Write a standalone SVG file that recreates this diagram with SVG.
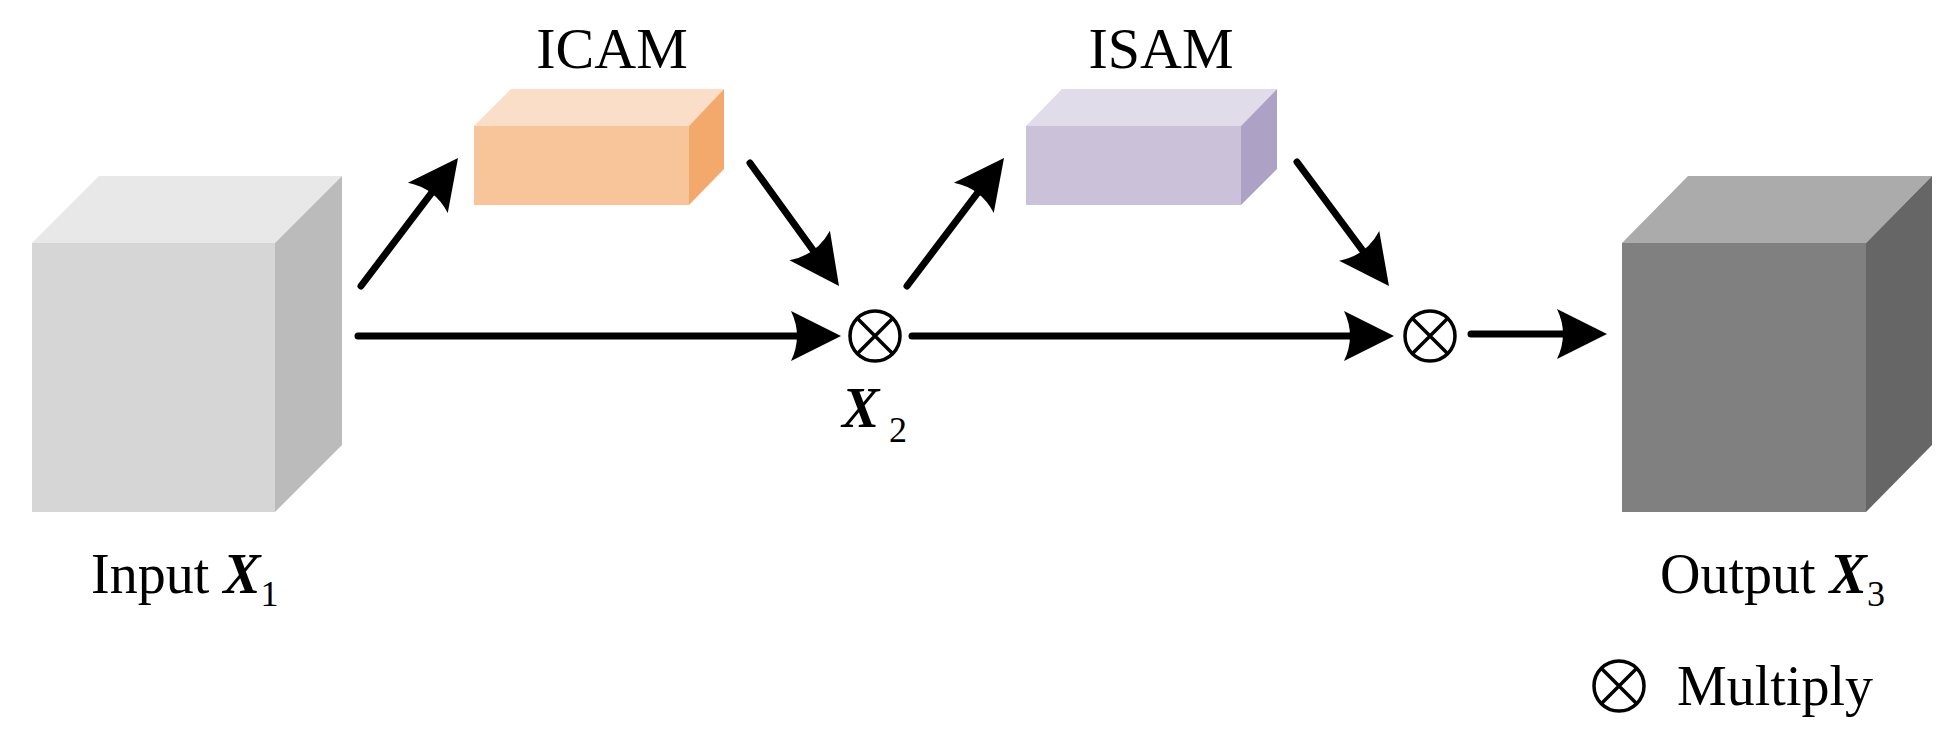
<svg xmlns="http://www.w3.org/2000/svg" width="1953" height="742" viewBox="0 0 1953 742">
<style>
text{font-family:"Liberation Serif","Times New Roman",serif;font-size:56px;fill:#000}
.v{font-weight:bold;font-style:italic}
.s{font-size:36px}
.c{stroke:#000;stroke-width:7;stroke-linecap:round;fill:none}
.m{fill:#fff;stroke:#000;stroke-width:3.5}
</style>
<defs>
<marker id="ah" markerUnits="userSpaceOnUse" markerWidth="100" markerHeight="100" viewBox="-50 -50 100 100" refX="0" refY="0" orient="auto" overflow="visible">
<path d="M30,0 L-20,-25 Q-8,0 -20,25 Z" fill="#000"/>
</marker>
</defs>
<rect width="1953" height="742" fill="#fff"/>
<g id="input">
<polygon points="32,243 99,176 342,176 275,243" fill="#e8e8e8"/>
<polygon points="275,243 342,176 342,445 275,512" fill="#bbbbbb"/>
<rect x="32" y="243" width="243" height="269" fill="#d6d6d6"/>
<text x="91" y="593">Input <tspan class="v">X</tspan><tspan class="s" dy="13">1</tspan></text>
</g>
<g id="icam">
<polygon points="474,126 511,89 724,89 689,126" fill="#fbdec8"/>
<polygon points="689,126 724,89 724,169 689,205" fill="#f4a96c"/>
<rect x="474" y="126" width="215" height="79" fill="#f8c59b"/>
<text x="612" y="68" text-anchor="middle" font-size="58" style="font-size:58px">ICAM</text>
</g>
<g id="isam">
<polygon points="1026,126 1062,89 1277,89 1241,126" fill="#e0dcea"/>
<polygon points="1241,126 1277,89 1277,169 1241,205" fill="#ada1c6"/>
<rect x="1026" y="126" width="215" height="79" fill="#cbc2d9"/>
<text x="1161" y="68" text-anchor="middle" style="font-size:58px">ISAM</text>
</g>
<g id="output">
<polygon points="1622,243 1688,176 1932,176 1866,243" fill="#ababab"/>
<polygon points="1866,243 1932,176 1932,445 1866,512" fill="#666666"/>
<rect x="1622" y="243" width="244" height="269" fill="#808080"/>
<text x="1660" y="593">Output <tspan class="v">X</tspan><tspan class="s" dy="13">3</tspan></text>
</g>
<g id="mul1">
<circle class="m" cx="875" cy="336" r="25"/>
<path d="M857,318 L893,354 M893,318 L857,354" stroke="#000" stroke-width="3.5"/>
<text x="842" y="427" class="v">X</text><text x="889" y="442" class="s">2</text>
</g>
<g id="mul2">
<circle class="m" cx="1430" cy="336" r="25"/>
<path d="M1412,318 L1448,354 M1448,318 L1412,354" stroke="#000" stroke-width="3.5"/>
</g>
<g id="legend">
<circle class="m" cx="1619" cy="686" r="25"/>
<path d="M1601,668 L1637,704 M1637,668 L1601,704" stroke="#000" stroke-width="3.5"/>
<text x="1677" y="705">Multiply</text>
</g>
<g id="connectors">
<line class="c" x1="361" y1="286" x2="439.9" y2="181.9" marker-end="url(#ah)"/>
<line class="c" x1="750" y1="163" x2="821.4" y2="261.7" marker-end="url(#ah)"/>
<line class="c" x1="907" y1="286" x2="985.9" y2="181.9" marker-end="url(#ah)"/>
<line class="c" x1="1297" y1="162" x2="1371.1" y2="261.9" marker-end="url(#ah)"/>
<line class="c" x1="358" y1="336" x2="811" y2="336" marker-end="url(#ah)"/>
<line class="c" x1="912" y1="336" x2="1364" y2="336" marker-end="url(#ah)"/>
<line class="c" x1="1471" y1="334" x2="1577" y2="334" marker-end="url(#ah)"/>
</g>
</svg>
